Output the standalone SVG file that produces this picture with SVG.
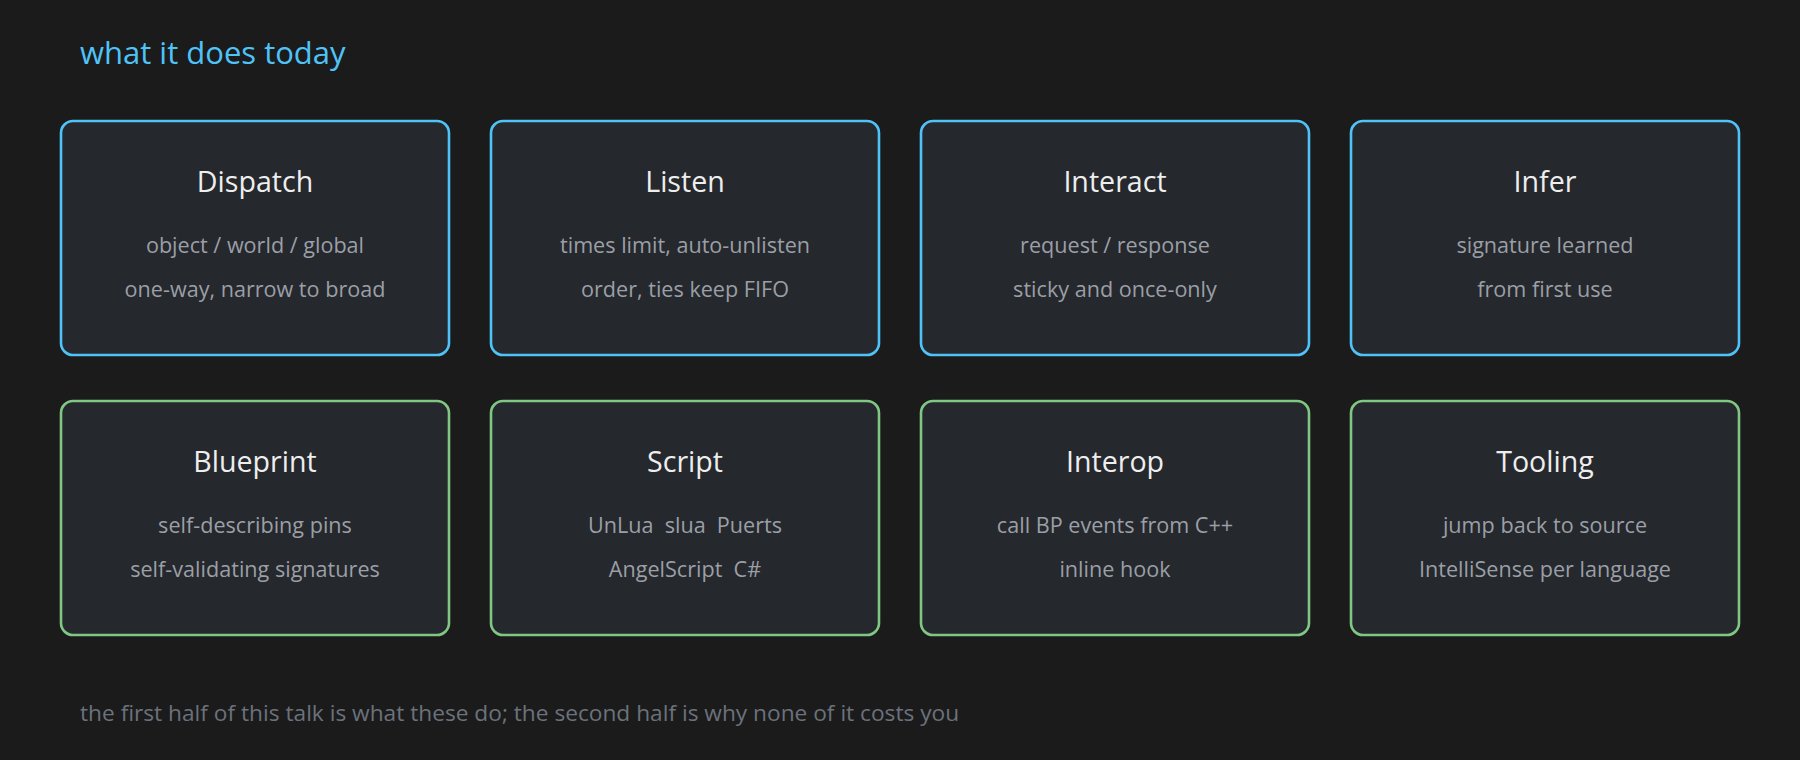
<svg xmlns="http://www.w3.org/2000/svg" width="1800" height="760" viewBox="0 0 1800 760">
<style>
.bg{fill:#1b1b1b}
.box{fill:#25282d;stroke-width:2.6}
.blue{stroke:#4fc3f7}
.green{stroke:#81c784}
text{font-family:"Open Sans","Noto Sans","Liberation Sans",sans-serif}
.hdr{fill:#4fc3f7;font-size:31px}
.ttl{fill:#eeeeee;font-size:28.6px;text-anchor:middle}
.sub{fill:#9b9fa6;font-size:21.6px;text-anchor:middle;white-space:pre}
.foot{fill:#6b727b;font-size:22.7px}
</style>
<rect class="bg" x="0" y="0" width="1800" height="760"/>
<text class="hdr" x="80" y="63.5">what it does today</text>
<g id="connectors"/>
<g id="dispatch">
<rect class="box blue" x="61" y="121" width="388" height="234" rx="12"/>
<text class="ttl" x="255" y="192">Dispatch</text>
<text class="sub" x="255" y="253">object / world / global</text>
<text class="sub" x="255" y="297">one-way, narrow to broad</text>
</g>
<g id="listen">
<rect class="box blue" x="491" y="121" width="388" height="234" rx="12"/>
<text class="ttl" x="685" y="192">Listen</text>
<text class="sub" x="685" y="253">times limit, auto-unlisten</text>
<text class="sub" x="685" y="297">order, ties keep FIFO</text>
</g>
<g id="interact">
<rect class="box blue" x="921" y="121" width="388" height="234" rx="12"/>
<text class="ttl" x="1115" y="192">Interact</text>
<text class="sub" x="1115" y="253">request / response</text>
<text class="sub" x="1115" y="297">sticky and once-only</text>
</g>
<g id="infer">
<rect class="box blue" x="1351" y="121" width="388" height="234" rx="12"/>
<text class="ttl" x="1545" y="192">Infer</text>
<text class="sub" x="1545" y="253">signature learned</text>
<text class="sub" x="1545" y="297">from first use</text>
</g>
<g id="blueprint">
<rect class="box green" x="61" y="401" width="388" height="234" rx="12"/>
<text class="ttl" x="255" y="472">Blueprint</text>
<text class="sub" x="255" y="533">self-describing pins</text>
<text class="sub" x="255" y="577">self-validating signatures</text>
</g>
<g id="script">
<rect class="box green" x="491" y="401" width="388" height="234" rx="12"/>
<text class="ttl" x="685" y="472">Script</text>
<text class="sub" x="685" y="533" xml:space="preserve">UnLua  slua  Puerts</text>
<text class="sub" x="685" y="577" xml:space="preserve">AngelScript  C#</text>
</g>
<g id="interop">
<rect class="box green" x="921" y="401" width="388" height="234" rx="12"/>
<text class="ttl" x="1115" y="472">Interop</text>
<text class="sub" x="1115" y="533">call BP events from C++</text>
<text class="sub" x="1115" y="577">inline hook</text>
</g>
<g id="tooling">
<rect class="box green" x="1351" y="401" width="388" height="234" rx="12"/>
<text class="ttl" x="1545" y="472">Tooling</text>
<text class="sub" x="1545" y="533">jump back to source</text>
<text class="sub" x="1545" y="577">IntelliSense per language</text>
</g>
<text class="foot" x="80" y="720.5">the first half of this talk is what these do; the second half is why none of it costs you</text>
</svg>
